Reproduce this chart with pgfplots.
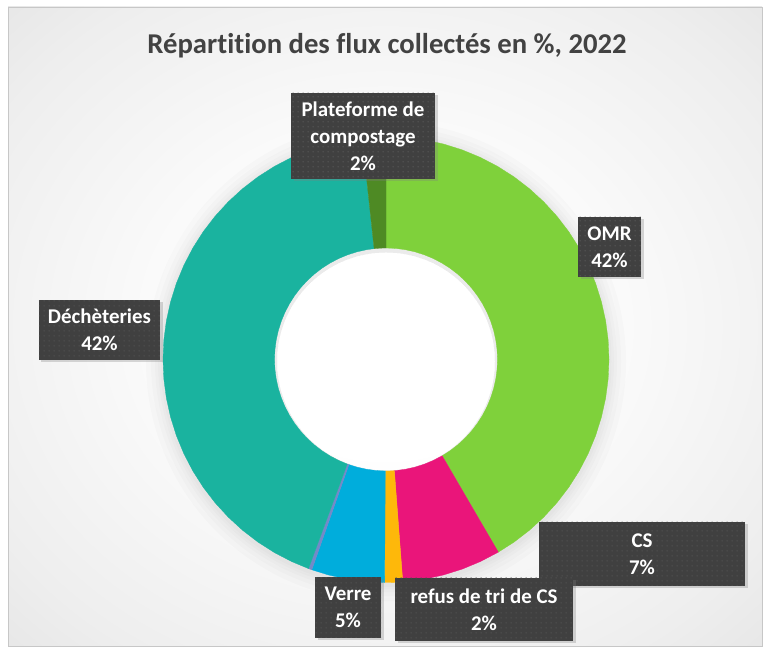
\documentclass[border=0pt]{standalone}
\usepackage{pgfplots}
\pgfplotsset{compat=1.18}
\usepgfplotslibrary{polar}
\usetikzlibrary{shadows,patterns.meta}
\usepackage{fontspec}
\setmainfont[Ligatures=NoCommon]{Carlito}
\definecolor{cOMR}{HTML}{7FD13B}
\definecolor{cCS}{HTML}{EA157A}
\definecolor{cRefus}{HTML}{FEB80A}
\definecolor{cVerre}{HTML}{00ADDC}
\definecolor{cAutre}{HTML}{738AC8}
\definecolor{cDech}{HTML}{1AB39F}
\definecolor{cPlat}{HTML}{4E8A24}
\definecolor{boxc}{HTML}{404040}
\definecolor{dotc}{HTML}{575757}
\definecolor{titlec}{HTML}{424242}
\definecolor{bgA}{HTML}{EEEEEE}
\definecolor{bgB}{HTML}{D6D6D6}
\definecolor{bgC}{HTML}{C3C3C3}
\pgfdeclareradialshading{bgshade}{\pgfpoint{0bp}{0bp}}{color(0bp)=(white); color(10bp)=(white); color(30bp)=(bgA); color(50bp)=(bgB); color(72bp)=(bgC)}
\tikzdeclarepattern{name=boxdots, type=uncolored,
  bounding box={(0,0) and (4.7bp,4.7bp)}, tile size={(4.7bp,4.7bp)},
  code={\pgfpathrectangle{\pgfpoint{1.6bp}{1.6bp}}{\pgfpoint{1.3bp}{1.3bp}}\pgfusepath{fill}}}
\begin{document}
\begin{tikzpicture}[x=1bp,y=1bp,
  lbl/.style={fill=boxc, text=white, font=\bfseries\fontsize{21}{27}\selectfont,
    align=center, inner sep=0pt,
    drop shadow={shadow xshift=2.5bp, shadow yshift=-2.5bp, opacity=0.3},
    postaction={pattern=boxdots, pattern color=dotc}}]
\fill[white] (0,0) rectangle (769,649);
\shade[shading=bgshade] (8,3) rectangle (762,642);
\draw[black!22, line width=0.8bp] (8,3) rectangle (762,642);
\node[font=\bfseries\fontsize{28.8}{33}\selectfont, text=titlec] at (387,603)
  {Répartition des flux collectés en \%, 2022};
% soft shadow of the ring
\foreach \r in {240,235,231,228,225.5}
  \fill[black, opacity=0.016, even odd rule] (386,287.5) circle (\r) circle (109);
% Values (%): OMR 41.6, CS 7.2, refus de tri 1.3, Verre 5.3, autre 0.25, Decheteries 42.65, Plateforme 1.7
\begin{polaraxis}[at={(386bp,289.5bp)}, anchor=center, width=446bp, height=446bp,
  scale only axis, ymin=0, ymax=1, hide axis, clip=false]
% OMR
\addplot[fill=cOMR, draw=cOMR, line width=0.3pt] coordinates {
(90,1)(85,1)(80,1)(75,1)(70,1)(65,1)(60,1)(55,1)(50,1)(45,1)(40,1)(35,1)(30,1)(25,1)(20,1)(15,1)(10,1)(5,1)(0,1)
(-5,1)(-10,1)(-15,1)(-20,1)(-25,1)(-30,1)(-35,1)(-40,1)(-45,1)(-50,1)(-55,1)(-59.76,1)
(-59.76,0.5)(-55,0.5)(-50,0.5)(-45,0.5)(-40,0.5)(-35,0.5)(-30,0.5)(-25,0.5)(-20,0.5)(-15,0.5)(-10,0.5)(-5,0.5)
(0,0.5)(5,0.5)(10,0.5)(15,0.5)(20,0.5)(25,0.5)(30,0.5)(35,0.5)(40,0.5)(45,0.5)(50,0.5)(55,0.5)(60,0.5)(65,0.5)
(70,0.5)(75,0.5)(80,0.5)(85,0.5)(90,0.5)} --cycle;
% CS
\addplot[fill=cCS, draw=cCS, line width=0.3pt] coordinates {
(-59.76,1)(-65,1)(-70,1)(-75,1)(-80,1)(-85,1)(-85.68,1)
(-85.68,0.5)(-85,0.5)(-80,0.5)(-75,0.5)(-70,0.5)(-65,0.5)(-59.76,0.5)} --cycle;
% refus de tri de CS
\addplot[fill=cRefus, draw=cRefus, line width=0.3pt] coordinates {
(-85.68,1)(-88,1)(-90.36,1)(-90.36,0.5)(-88,0.5)(-85.68,0.5)} --cycle;
% Verre
\addplot[fill=cVerre, draw=cVerre, line width=0.3pt] coordinates {
(-90.36,1)(-95,1)(-100,1)(-105,1)(-109.44,1)
(-109.44,0.5)(-105,0.5)(-100,0.5)(-95,0.5)(-90.36,0.5)} --cycle;
% autre
\addplot[fill=cAutre, draw=cAutre, line width=0.3pt] coordinates {
(-109.44,1)(-110.34,1)(-110.34,0.5)(-109.44,0.5)} --cycle;
% Decheteries
\addplot[fill=cDech, draw=cDech, line width=0.3pt] coordinates {
(-110.34,1)(-115,1)(-120,1)(-125,1)(-130,1)(-135,1)(-140,1)(-145,1)(-150,1)(-155,1)(-160,1)(-165,1)(-170,1)
(-175,1)(-180,1)(-185,1)(-190,1)(-195,1)(-200,1)(-205,1)(-210,1)(-215,1)(-220,1)(-225,1)(-230,1)(-235,1)
(-240,1)(-245,1)(-250,1)(-255,1)(-260,1)(-263.88,1)
(-263.88,0.5)(-260,0.5)(-255,0.5)(-250,0.5)(-245,0.5)(-240,0.5)(-235,0.5)(-230,0.5)(-225,0.5)(-220,0.5)
(-215,0.5)(-210,0.5)(-205,0.5)(-200,0.5)(-195,0.5)(-190,0.5)(-185,0.5)(-180,0.5)(-175,0.5)(-170,0.5)
(-165,0.5)(-160,0.5)(-155,0.5)(-150,0.5)(-145,0.5)(-140,0.5)(-135,0.5)(-130,0.5)(-125,0.5)(-120,0.5)
(-115,0.5)(-110.34,0.5)} --cycle;
% Plateforme de compostage
\addplot[fill=cPlat, draw=cPlat, line width=0.3pt] coordinates {
(-263.88,1)(-267,1)(-270,1)(-270,0.5)(-267,0.5)(-263.88,0.5)} --cycle;
\end{polaraxis}
% data labels
\node[lbl, minimum width=144bp, minimum height=86bp] at (363,513) {Plateforme de\\compostage\\2\%};
\node[lbl, minimum width=63bp, minimum height=60bp] at (609.5,402) {OMR\\42\%};
\node[lbl, minimum width=121bp, minimum height=60bp] at (99.5,319) {Déchèteries\\42\%};
\node[lbl, minimum width=206bp, minimum height=64bp] at (642,95) {CS\\7\%};
\node[lbl, minimum width=66bp, minimum height=61bp] at (348,41.5) {Verre\\5\%};
\node[lbl, minimum width=178bp, minimum height=63bp] at (484,39.5) {refus de tri de CS\\2\%};
\end{tikzpicture}
\end{document}
